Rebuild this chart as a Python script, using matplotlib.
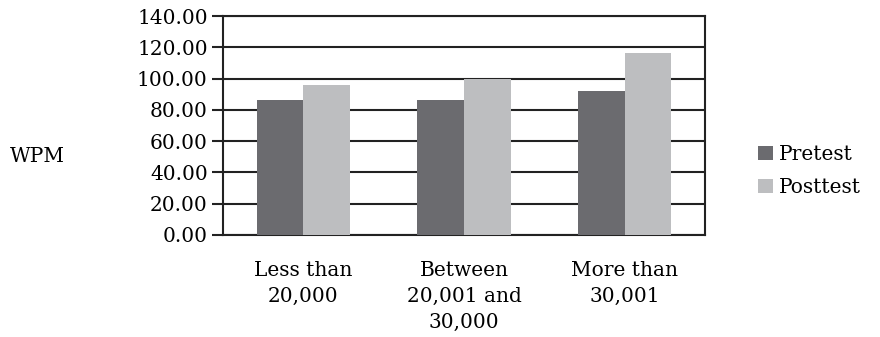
import matplotlib.pyplot as plt
import numpy as np

# values
categories = ["Less than\n20,000", "Between\n20,001 and\n30,000", "More than\n30,001"]
pretest = [86.3, 86.3, 92.0]
posttest = [95.9, 99.7, 116.3]
yticks = [0, 20, 40, 60, 80, 100, 120, 140]

plt.rcParams['font.family'] = ['DejaVu Serif']
FS = 14.5

fig = plt.figure(figsize=(8.8, 3.37), dpi=100)
ax = fig.add_axes([223 / 880, 1 - 235 / 337, (705 - 223) / 880, (235 - 16) / 337])

x = np.arange(len(categories))
w = 0.29
ax.bar(x - w / 2, pretest, w, color='#6b6b6f', label='Pretest', zorder=3)
ax.bar(x + w / 2, posttest, w, color='#bdbec0', label='Posttest', zorder=3)

ax.set_xlim(-0.5, 2.5)
ax.set_ylim(0, 140)
ax.set_yticks(yticks)
ax.set_yticklabels([f"{v:.2f}" for v in yticks], fontsize=FS)
ax.set_xticks(x)
ax.set_xticklabels(categories, fontsize=FS, linespacing=1.45)
ax.tick_params(axis='x', length=0, pad=19)
ax.tick_params(axis='y', length=8, width=1.5, color='#222222', pad=3)
ax.yaxis.grid(True, color='#222222', linewidth=1.5, zorder=0)
for s in ax.spines.values():
    s.set_linewidth(1.5)
    s.set_color('#222222')

fig.text(10 / 880, 1 - 157 / 337, "WPM", fontsize=FS, va='center', ha='left')

ax.legend(loc='center left', bbox_to_anchor=(740 / 880, 1 - 171 / 337),
          bbox_transform=fig.transFigure, frameon=False, fontsize=FS,
          handlelength=0.75, handleheight=0.75, handletextpad=0.3, labelspacing=0.7)

fig.savefig("out.png", dpi=100)
